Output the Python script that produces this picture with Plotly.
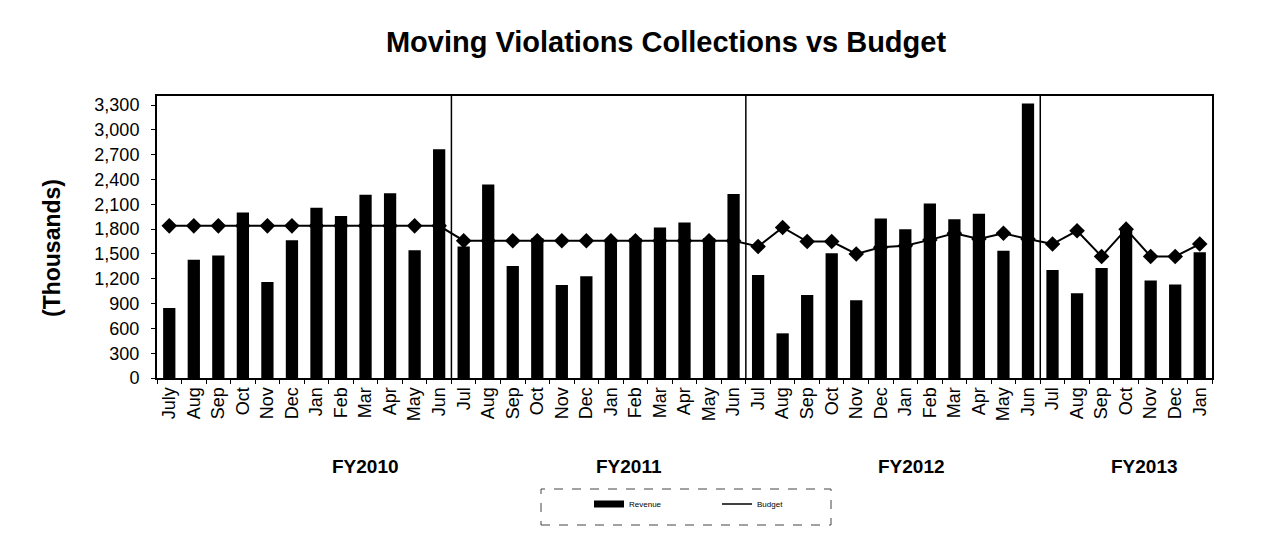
import plotly.graph_objects as go

# ---- data ----
fy_labels = ["FY2010", "FY2011", "FY2012", "FY2013"]
fy2010_months = ["July", "Aug", "Sep", "Oct", "Nov", "Dec", "Jan", "Feb", "Mar", "Apr", "May", "Jun"]
fy2011_months = ["Jul", "Aug", "Sep", "Oct", "Nov", "Dec", "Jan", "Feb", "Mar", "Apr", "May", "Jun"]
fy2012_months = ["Jul", "Aug", "Sep", "Oct", "Nov", "Dec", "Jan", "Feb", "Mar", "Apr", "May", "Jun"]
fy2013_months = ["Jul", "Aug", "Sep", "Oct", "Nov", "Dec", "Jan"]

revenue_fy2010 = [845, 1430, 1480, 2000, 1160, 1665, 2060, 1960, 2215, 2235, 1545, 2765]
revenue_fy2011 = [1590, 2340, 1355, 1690, 1125, 1230, 1660, 1690, 1820, 1880, 1690, 2225]
revenue_fy2012 = [1245, 540, 1005, 1510, 940, 1930, 1800, 2110, 1920, 1985, 1540, 3320]
revenue_fy2013 = [1305, 1025, 1330, 1780, 1180, 1130, 1520]

budget_fy2010 = [1840] * 12
budget_fy2011 = [1660] * 12
budget_fy2012 = [1590, 1820, 1650, 1650, 1500, 1580, 1600, 1670, 1750, 1680, 1750, 1680]
budget_fy2013 = [1620, 1780, 1470, 1800, 1470, 1470, 1620]

y_ticks = list(range(0, 3301, 300))

# ---- assemble ----
groups = [fy2010_months, fy2011_months, fy2012_months, fy2013_months]
months = fy2010_months + fy2011_months + fy2012_months + fy2013_months
revenue = revenue_fy2010 + revenue_fy2011 + revenue_fy2012 + revenue_fy2013
budget = budget_fy2010 + budget_fy2011 + budget_fy2012 + budget_fy2013
xs = list(range(len(months)))

FONT = "Liberation Sans, Arial, sans-serif"

# page has an 8px body margin; figure sized to fit the 1267x544 window
W, H = 1259, 536
OFF = 8
PL, PR, PT, PB = 157 - OFF, 1212 - OFF, 96 - OFF, 378 - OFF  # plot area in figure px
PW, PH = PR - PL, PB - PT


def px_x(page_x):
    return (page_x - OFF - PL) / PW


def px_y(page_y):
    return (PB - (page_y - OFF)) / PH


fig = go.Figure()
fig.add_trace(go.Scatter(x=xs, y=budget, mode="lines+markers", name="Budget",
                         line=dict(color="black", width=2),
                         marker=dict(symbol="diamond", size=12, color="black"),
                         showlegend=False, yaxis="y"))
fig.add_trace(go.Bar(x=xs, y=revenue, name="Revenue", marker=dict(color="black", line=dict(width=0)),
                     showlegend=False, yaxis="y2"))
# legend entries in the style of the original (line swatches)
fig.add_trace(go.Scatter(x=[None], y=[None], mode="lines", name="Revenue",
                         line=dict(color="black", width=7)))
fig.add_trace(go.Scatter(x=[None], y=[None], mode="lines", name="Budget",
                         line=dict(color="black", width=1.5)))

yr = [0, 3410]
fig.update_layout(
    width=W, height=H,
    margin=dict(l=PL, r=W - PR, t=PT, b=H - PB, autoexpand=False),
    paper_bgcolor="white", plot_bgcolor="white",
    font=dict(family=FONT, color="black"),
    title=dict(text="<b>Moving Violations Collections vs Budget</b>", x=(666 - OFF) / W, xanchor="center",
               y=1 - (42 - OFF) / H, yanchor="middle", font=dict(size=29, family=FONT, color="black")),
    bargap=0.5,
    showlegend=True,
    legend=dict(orientation="h", x=px_x(589), xanchor="left", y=px_y(504), yanchor="middle",
                font=dict(size=8, family=FONT), entrywidth=83, bgcolor="rgba(0,0,0,0)",
                borderwidth=0),
    xaxis=dict(range=[-0.5, len(months) - 0.5], tickmode="array", tickvals=xs, ticktext=months,
               tickangle=-90, tickfont=dict(size=18), ticks="", showgrid=False, zeroline=False,
               showline=True, linecolor="black", linewidth=2, mirror=True,
               minor=dict(tick0=-0.5, dtick=1, ticks="outside", ticklen=4, tickcolor="black")),
    yaxis=dict(range=yr, tickmode="array", tickvals=y_ticks, tickformat=",", tickfont=dict(size=18),
               ticks="outside", ticklen=4, tickcolor="black", ticklabelstandoff=8,
               showgrid=False, zeroline=False,
               showline=True, linecolor="black", linewidth=2, mirror=True),
    yaxis2=dict(range=yr, overlaying="y", visible=False, showgrid=False, zeroline=False),
)

# fiscal year separators
shapes = []
pos = -0.5
for g in groups[:-1]:
    pos += len(g)
    shapes.append(dict(type="line", xref="x", yref="paper", x0=pos, x1=pos, y0=0, y1=1,
                       line=dict(color="black", width=1.5)))
# legend box (dashed)
shapes.append(dict(type="rect", xref="paper", yref="paper", x0=px_x(541), x1=px_x(831),
                   y0=px_y(525), y1=px_y(489),
                   line=dict(color="#444", width=1, dash="dash")))
fig.update_layout(shapes=shapes)

# fiscal year labels
fy_x = [7.98, 18.74, 30.24, 39.74]
annotations = [dict(text=f"<b>{t}</b>", x=x, xref="x", y=px_y(466), yref="paper",
                    xanchor="center", yanchor="middle",
                    showarrow=False, font=dict(size=19, family=FONT, color="black"))
               for t, x in zip(fy_labels, fy_x)]
annotations.append(dict(text="<b>(Thousands)</b>", textangle=-90, x=px_x(52), xref="paper",
                        y=px_y(248), yref="paper", xanchor="center", yanchor="middle",
                        showarrow=False, font=dict(size=23, family=FONT, color="black")))
fig.update_layout(annotations=annotations)

fig.write_html("out.html")
